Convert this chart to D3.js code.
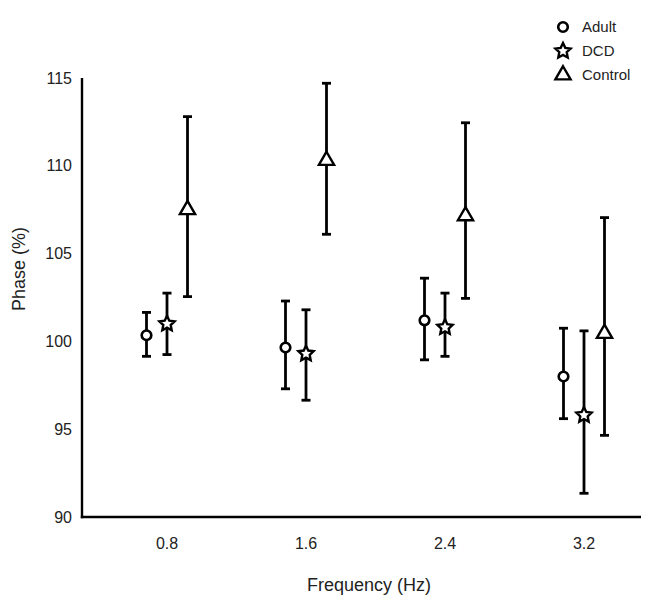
<!DOCTYPE html>
<html>
<head>
<meta charset="utf-8">
<script src="https://cdn.jsdelivr.net/npm/d3@7"></script>
<style>
  body { margin: 0; background: #fff; }
  svg { font-family: "Liberation Sans", Arial, sans-serif; }
</style>
</head>
<body>
<svg id="chart" width="653" height="602"></svg>
<script>
// frequencies and groups
const frequencies = ['0.8', '1.6', '2.4', '3.2'];
const groups = ['Adult', 'DCD', 'Control'];
const yTicks = [90, 95, 100, 105, 110, 115];

// phase means and error bar ends, one value per frequency
const adultMean = [100.35, 99.65, 101.2, 98.0];
const adultLow = [99.15, 97.3, 98.95, 95.6];
const adultHigh = [101.65, 102.3, 103.6, 100.75];

const dcdMean = [101.0, 99.3, 100.8, 95.8];
const dcdLow = [99.25, 96.65, 99.15, 91.35];
const dcdHigh = [102.75, 101.8, 102.75, 100.6];

const controlMean = [107.5, 110.3, 107.15, 100.45];
const controlLow = [102.55, 106.1, 102.45, 94.65];
const controlHigh = [112.8, 114.7, 112.45, 107.05];

const series = [
  { name: 'Adult', mean: adultMean, low: adultLow, high: adultHigh },
  { name: 'DCD', mean: dcdMean, low: dcdLow, high: dcdHigh },
  { name: 'Control', mean: controlMean, low: controlLow, high: controlHigh }
];

const svg = d3.select('#chart');
const plot = { left: 82, right: 641, top: 78, bottom: 517 };

const y = d3.scaleLinear().domain([90, 115]).range([plot.bottom, plot.top]);
const x = d3.scalePoint().domain(frequencies).range([167, 584]);
const xOff = d3.scalePoint().domain(groups).range([-20.5, 20.5]);

// fat five-point star, fatter than d3.symbolStar
const starPts = d3.range(10).map(i => [i * Math.PI / 5, i % 2 ? 3.9 : 8]);
const starPath = d3.lineRadial().curve(d3.curveLinearClosed)(starPts);

const symbols = {
  DCD: starPath,
  Control: d3.symbol().type(d3.symbolTriangle).size(100)()
};

function drawMarker(g, name) {
  if (name === 'Adult') {
    g.append('circle').attr('r', 4.8)
      .attr('fill', '#fff').attr('stroke', '#000').attr('stroke-width', 2.6);
  } else {
    g.append('path').attr('d', symbols[name])
      .attr('fill', '#fff').attr('stroke', '#000').attr('stroke-width', 2.4)
      .attr('stroke-linejoin', 'miter');
  }
}

// axes lines
svg.append('line')
  .attr('x1', plot.left).attr('x2', plot.left)
  .attr('y1', plot.top).attr('y2', plot.bottom + 1.2)
  .attr('stroke', '#000').attr('stroke-width', 2.4);
svg.append('line')
  .attr('x1', plot.left - 1.2).attr('x2', plot.right)
  .attr('y1', plot.bottom).attr('y2', plot.bottom)
  .attr('stroke', '#000').attr('stroke-width', 2.4);

// y tick labels
svg.append('g').selectAll('text')
  .data(yTicks)
  .join('text')
  .attr('x', 72)
  .attr('y', d => y(d))
  .attr('dy', '0.35em')
  .attr('text-anchor', 'end')
  .attr('font-size', 16)
  .attr('fill', '#222')
  .text(d => d);

// x tick labels
svg.append('g').selectAll('text')
  .data(frequencies)
  .join('text')
  .attr('x', d => x(d))
  .attr('y', 549)
  .attr('text-anchor', 'middle')
  .attr('font-size', 16)
  .attr('fill', '#222')
  .text(d => d);

// axis titles
svg.append('text')
  .attr('x', 369).attr('y', 591)
  .attr('text-anchor', 'middle')
  .attr('font-size', 18)
  .attr('fill', '#222')
  .text('Frequency (Hz)');

svg.append('text')
  .attr('transform', 'translate(25,269) rotate(-90)')
  .attr('text-anchor', 'middle')
  .attr('font-size', 18)
  .attr('fill', '#222')
  .text('Phase (%)');

// error bars + markers
series.forEach(s => {
  const g = svg.append('g');
  const pts = frequencies.map((f, i) => ({
    f, mean: s.mean[i], low: s.low[i], high: s.high[i],
    cx: x(f) + xOff(s.name)
  }));

  g.selectAll('line.bar')
    .data(pts)
    .join('line')
    .attr('class', 'bar')
    .attr('x1', d => d.cx).attr('x2', d => d.cx)
    .attr('y1', d => y(d.high)).attr('y2', d => y(d.low))
    .attr('stroke', '#000').attr('stroke-width', 2.8);

  ['high', 'low'].forEach(k => {
    g.selectAll('line.cap-' + k)
      .data(pts)
      .join('line')
      .attr('class', 'cap-' + k)
      .attr('x1', d => d.cx - 4.5).attr('x2', d => d.cx + 4.5)
      .attr('y1', d => y(d[k])).attr('y2', d => y(d[k]))
      .attr('stroke', '#000').attr('stroke-width', 2.8);
  });

  g.selectAll('g.mark')
    .data(pts)
    .join('g')
    .attr('class', 'mark')
    .attr('transform', d => `translate(${d.cx},${y(d.mean)})`)
    .each(function() { drawMarker(d3.select(this), s.name); });
});

// legend
const legend = svg.append('g');
const legY = d3.scalePoint().domain(groups).range([27, 75]);
groups.forEach(name => {
  const row = legend.append('g').attr('transform', `translate(563,${legY(name)})`);
  drawMarker(row, name);
  row.append('text')
    .attr('x', 19)
    .attr('dy', '0.35em')
    .attr('font-size', 15)
    .attr('fill', '#222')
    .text(name);
});
</script>
</body>
</html>
